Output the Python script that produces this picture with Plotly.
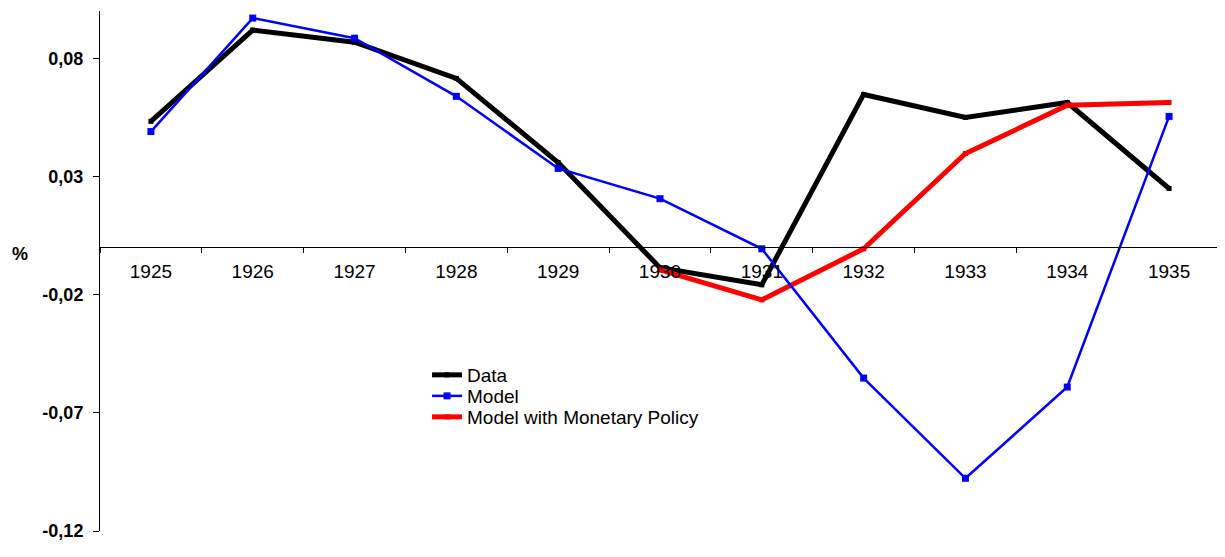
import plotly.graph_objects as go

years = ["1925", "1926", "1927", "1928", "1929", "1930", "1931", "1932", "1933", "1934", "1935"]
data_vals = [0.0533, 0.0919, 0.0868, 0.0715, 0.0359, -0.0086, -0.0158, 0.0647, 0.0550, 0.0613, 0.0249]
model_vals = [0.0490, 0.0970, 0.0885, 0.0639, 0.0334, 0.0206, -0.0006, -0.0553, -0.0977, -0.0591, 0.0554]
policy_years = ["1930", "1931", "1932", "1933", "1934", "1935"]
policy_vals = [-0.0095, -0.0222, -0.0006, 0.0397, 0.0601, 0.0613]

y_tickvals = [0.08, 0.03, -0.02, -0.07, -0.12]
y_ticktext = ["0,08", "0,03", "-0,02", "-0,07", "-0,12"]

FONT = "Liberation Sans, Arial, sans-serif"

fig = go.Figure()
fig.add_trace(go.Scatter(x=years, y=data_vals, name="Data", mode="lines+markers",
                         legend="legend",
                         line=dict(color="black", width=5),
                         marker=dict(symbol="square", size=5, color="black")))
fig.add_trace(go.Scatter(x=policy_years, y=policy_vals, name="Model with Monetary Policy",
                         mode="lines+markers", legend="legend3",
                         line=dict(color="#ff0000", width=5),
                         marker=dict(symbol="square", size=5, color="#ff0000")))
fig.add_trace(go.Scatter(x=years, y=model_vals, name="Model", mode="lines+markers",
                         legend="legend2",
                         line=dict(color="#0000ff", width=2.5),
                         marker=dict(symbol="square", size=7, color="#0000ff")))

y_min, y_max = -0.12, 0.10
zero_pos = (0 - y_min) / (y_max - y_min)

def leg(yfrac):
    return dict(x=0.292, y=yfrac, xanchor="left", yanchor="middle",
                bgcolor="rgba(0,0,0,0)", font=dict(size=19, family=FONT),
                itemwidth=30)

fig.update_layout(
    width=1225, height=557,
    margin=dict(l=92, r=13, t=3, b=34, autoexpand=False),
    plot_bgcolor="white", paper_bgcolor="white",
    font=dict(family=FONT, size=17, color="black"),
    showlegend=True,
    legend=leg((531 - 375) / 520),
    legend2=leg((531 - 396) / 520),
    legend3=leg((531 - 417) / 520),
    xaxis=dict(type="category", categoryorder="array", categoryarray=years,
               range=[-0.5, len(years) - 0.5],
               anchor="free", position=zero_pos, automargin=False,
               showline=True, linecolor="black", linewidth=1,
               ticks="outside", tickson="boundaries", ticklen=5, tickcolor="black",
               showgrid=False, zeroline=False, ticklabelstandoff=7,
               tickfont=dict(size=19, family=FONT)),
    yaxis=dict(range=[y_min, y_max], tickvals=y_tickvals, ticktext=y_ticktext,
               automargin=False,
               showline=True, linecolor="black", linewidth=1,
               ticks="outside", ticklen=6, tickcolor="black",
               showgrid=False, zeroline=False, ticklabelstandoff=6,
               tickfont=dict(size=18, family=FONT, weight="bold")),
)

fig.add_annotation(text="<b>%</b>", xref="paper", yref="paper", x=-0.071, y=zero_pos,
                   xanchor="center", yanchor="middle", yshift=-7, showarrow=False,
                   font=dict(size=18, family=FONT))

fig.write_html("out.html")
